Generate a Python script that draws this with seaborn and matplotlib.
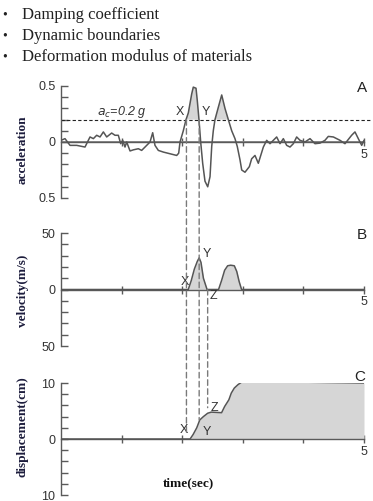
import numpy as np
import pandas as pd
import matplotlib
matplotlib.use("Agg")
import matplotlib.pyplot as plt
import seaborn as sns
from matplotlib.patches import ConnectionPatch
from matplotlib.ticker import MultipleLocator, FixedLocator

# ---------------- data ----------------
time_acc = [0.00, 0.066, 0.149, 0.259, 0.396, 0.451, 0.479, 0.534, 0.589, 0.644,
            0.699, 0.754, 0.836, 0.891, 0.946, 0.985, 1.018, 1.056, 1.084, 1.139,
            1.194, 1.276, 1.331, 1.414, 1.469, 1.513, 1.551, 1.606, 1.689, 1.799,
            1.909, 1.942, 1.964, 2.018, 2.063, 2.101, 2.157, 2.183, 2.228, 2.249,
            2.277, 2.305, 2.338, 2.376, 2.421, 2.459, 2.487, 2.513, 2.541, 2.596,
            2.652, 2.706, 2.761, 2.817, 2.871, 2.909, 2.954, 2.982, 3.036, 3.108,
            3.146, 3.201, 3.256, 3.339, 3.394, 3.449, 3.504, 3.559, 3.614, 3.669,
            3.724, 3.779, 3.834, 3.889, 3.944, 4.026, 4.109, 4.191, 4.274, 4.356,
            4.411, 4.494, 4.604, 4.686, 4.796, 4.851, 4.906, 4.962, 5.000]
acc = [0.015, 0.03, -0.03, -0.03, -0.045, 0.015, 0.045, 0.03, 0.06, 0.045,
       0.09, 0.045, 0.08, 0.06, 0.06, -0.015, 0.015, -0.045, 0.0, -0.08,
       -0.07, -0.06, -0.075, -0.03, 0.0, 0.083, -0.03, -0.075, -0.09, -0.105,
       -0.12, -0.10, 0.0, 0.10, 0.20, 0.26, 0.43, 0.49, 0.48, 0.37,
       0.20, 0.0, -0.19, -0.35, -0.40, -0.31, -0.04, 0.10, 0.20, 0.31,
       0.42, 0.30, 0.20, 0.10, 0.03, -0.04, -0.16, -0.25, -0.27, -0.22,
       -0.15, -0.12, -0.19, -0.045, 0.015, -0.015, 0.015, 0.045, -0.015, 0.03,
       -0.03, -0.045, -0.015, 0.045, 0.015, 0.0, 0.03, -0.015, -0.01, 0.015,
       0.05, 0.045, 0.015, -0.015, 0.06, 0.09, 0.03, -0.03, 0.015]

time_vel = [0.0, 2.10, 2.15, 2.20, 2.25, 2.28, 2.31, 2.35, 2.41, 2.60, 2.65,
            2.70, 2.75, 2.80, 2.86, 2.90, 2.94, 2.98, 5.0]
vel = [0, 0, 8, 18, 25, 28, 24, 10, 0, 0, 8, 17, 21, 21.5, 21, 16, 7, 0, 0]

time_disp = [0.0, 2.13, 2.18, 2.24, 2.29, 2.35, 2.42, 2.48, 2.65, 2.70, 2.77,
             2.81, 2.86, 2.92, 3.00, 5.0]
disp = [0, 0, 0.8, 2.0, 3.4, 4.0, 4.6, 4.8, 4.7, 5.8, 7.0, 8.2, 9.1, 9.7, 10.3, 10.0]

threshold = 0.2
t_X, t_Y, t_Z = 2.07, 2.28, 2.42

bullets = ["Damping coefficient", "Dynamic boundaries",
           "Deformation modulus of materials"]

# ---------------- style ----------------
sns.set_theme(style="white")
plt.rcParams["font.family"] = ["Liberation Sans", "DejaVu Sans"]

W, H = 373, 501
fig = plt.figure(figsize=(W / 100, H / 100), dpi=100)


def rect(x0, x1, ytop, ybot):
    return [x0 / W, 1 - ybot / H, (x1 - x0) / W, (ybot - ytop) / H]


def fx(x):
    return x / W


def fy(y):
    return 1 - y / H


LINE = "#555555"
SPINE = "#5a5a5a"
FILL = "#d6d6d6"
TICKC = "#333333"
LABC = "#1c1c3c"

axA = fig.add_axes(rect(61, 364, 86, 198))
axB = fig.add_axes(rect(61, 364, 233, 346))
axC = fig.add_axes(rect(61, 364, 383, 495))


def style_axis(ax, ylim, minor, labels):
    ax.set_facecolor("none")
    ax.set_xlim(0, 5)
    ax.set_ylim(*ylim)
    for s in ["top", "right"]:
        ax.spines[s].set_visible(False)
    ax.spines["bottom"].set_position(("data", 0))
    for s in ["left", "bottom"]:
        ax.spines[s].set_color(SPINE)
        ax.spines[s].set_linewidth(1.0)
    ax.xaxis.set_major_locator(FixedLocator([1, 2, 3, 4, 5]))
    ax.set_xticklabels(["", "", "", "", "5"])
    ax.yaxis.set_major_locator(FixedLocator([ylim[0], 0, ylim[1]]))
    ax.set_yticklabels(labels)
    ax.yaxis.set_minor_locator(MultipleLocator(minor))
    ax.tick_params(axis="x", direction="inout", length=6, width=1, color=SPINE,
                   labelsize=9, labelcolor=TICKC, pad=2, bottom=True)
    ax.tick_params(axis="y", which="both", direction="in", length=5, width=1,
                   color=SPINE, labelsize=9, labelcolor=TICKC, pad=4, left=True)
    ax.set_xlabel("")
    ax.set_ylabel("")


# ---- Panel A: acceleration ----
dfA = pd.DataFrame({"t": time_acc, "a": acc})
ta, aa = np.array(time_acc), np.array(acc)
axA.fill_between(ta, aa, threshold, where=aa >= threshold, interpolate=True,
                 color=FILL, lw=0, zorder=1)
axA.axhline(0, color="#8a8a8a", lw=1.4, zorder=1)
sns.lineplot(data=dfA, x="t", y="a", ax=axA, color=LINE, lw=1.1,
             estimator=None, sort=False, zorder=3)
axA.axhline(threshold, xmin=0, xmax=1.027, color="#222222", lw=0.8,
            ls=(0, (3, 2)), clip_on=False, zorder=2)
style_axis(axA, (-0.5, 0.5), 0.1, ["0.5", "0", "0.5"])

# ---- Panel B: velocity ----
dfB = pd.DataFrame({"t": time_vel, "v": vel})
axB.fill_between(time_vel, vel, 0, color=FILL, lw=0, zorder=1)
sns.lineplot(data=dfB, x="t", y="v", ax=axB, color=LINE, lw=1.1,
             estimator=None, sort=False, zorder=3)
style_axis(axB, (-50, 50), 10, ["50", "0", "50"])

# ---- Panel C: displacement ----
dfC = pd.DataFrame({"t": time_disp, "d": disp})
axC.fill_between(time_disp, disp, 0, color=FILL, lw=0, zorder=1)
sns.lineplot(data=dfC, x="t", y="d", ax=axC, color=LINE, lw=1.1,
             estimator=None, sort=False, zorder=3)
style_axis(axC, (-10, 10), 2, ["10", "0", "10"])

# ---- dashed connectors ----
dash_kw = dict(color="#7a7a7a", lw=1.0, ls=(0, (4, 2.5)), arrowstyle="-",
               shrinkA=0, shrinkB=0, zorder=5)
for t, yA, yC in [(t_X, threshold, 1.2), (t_Y, threshold, 3.4)]:
    fig.add_artist(ConnectionPatch(xyA=(t, yA), coordsA="data", axesA=axA,
                                   xyB=(t, yC), coordsB="data", axesB=axC,
                                   **dash_kw))
fig.add_artist(ConnectionPatch(xyA=(t_Z, 0), coordsA="data", axesA=axB,
                               xyB=(t_Z, 5.6), coordsB="data", axesB=axC,
                               **dash_kw))

# ---- annotations ----
lab_kw = dict(fontsize=9, color="#333333", ha="center", va="center")
axA.text(t_X - 0.11, 0.27, "X", **lab_kw)
axA.text(t_Y + 0.11, 0.27, "Y", **lab_kw)
axA.text(1.0, 0.27, r"$a_c$=0.2 g", fontsize=9, color="#333333",
         ha="center", va="center", style="italic")
axB.text(t_X - 0.03, 7, "X", **lab_kw)
axB.text(t_Y + 0.12, 31, "Y", **lab_kw)
axB.text(t_Z + 0.1, -6, "Z", **lab_kw)
axC.text(t_X - 0.05, 1.6, "X", **lab_kw)
axC.text(t_Y + 0.12, 1.3, "Y", **lab_kw)
axC.text(t_Z + 0.12, 5.5, "Z", **lab_kw)

for letter, (x, y) in zip("ABC", [(362, 88), (362, 235), (360, 377)]):
    fig.text(fx(x), fy(y), letter, fontsize=11, color="#222222",
             ha="center", va="center")

ylab_kw = dict(fontsize=9.5, color=LABC, fontweight="bold",
               family=["Liberation Serif", "DejaVu Serif"], rotation=90,
               ha="center", va="center")
fig.text(fx(23), fy(150), "acceleration", **ylab_kw)
fig.text(fx(23), fy(291), "velocity(m/s)", **ylab_kw)
fig.text(fx(23), fy(427), "displacement(cm)", **ylab_kw)
fig.text(fx(188), fy(483), "time(sec)", fontsize=9.5, color="#111111",
         fontweight="bold", family=["Liberation Serif", "DejaVu Serif"],
         ha="center", va="center")

for i, b in enumerate(bullets):
    y = 15 + 21 * i
    fig.text(fx(5), fy(y), "\u2022", fontsize=10, color="#222222",
             ha="center", va="center", family=["Liberation Serif", "DejaVu Serif"])
    fig.text(fx(22), fy(y), b, fontsize=12, color="#222222",
             ha="left", va="center", family=["Liberation Serif", "DejaVu Serif"])

fig.savefig("out.png", dpi=100)
